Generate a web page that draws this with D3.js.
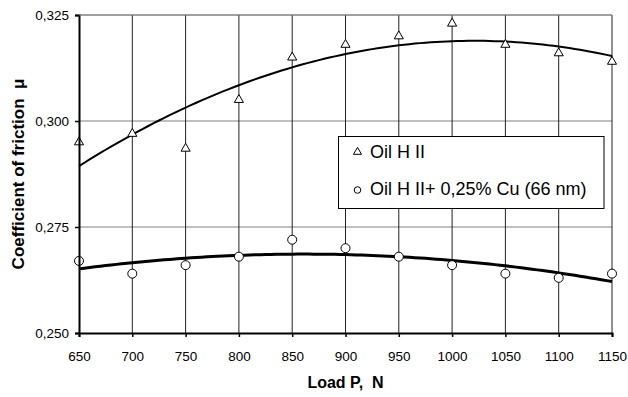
<!DOCTYPE html>
<html>
<head>
<meta charset="utf-8">
<script src="https://cdn.jsdelivr.net/npm/d3@7"></script>
<style>
  body { margin: 0; background: #fff; }
  svg { display: block; font-family: "Liberation Sans", Arial, sans-serif; }
</style>
</head>
<body>
<svg id="chart"></svg>
<script>
// Data
const loads = [650, 700, 750, 800, 850, 900, 950, 1000, 1050, 1100, 1150];
const oilH2 = [0.295, 0.297, 0.2935, 0.305, 0.315, 0.318, 0.320, 0.323, 0.318, 0.316, 0.314];
const oilH2Cu = [0.267, 0.264, 0.266, 0.268, 0.272, 0.270, 0.268, 0.266, 0.264, 0.263, 0.264];
const yTicks = [0.250, 0.275, 0.300, 0.325];
const seriesNames = ["Oil H II", "Oil H II+ 0,25% Cu (66 nm)"];

const width = 628, height = 397;
const plotLeft = 79, plotRight = 612, plotTop = 15, plotBottom = 333;

const svg = d3.select("#chart")
    .attr("width", width)
    .attr("height", height);

const x = d3.scaleLinear().domain([650, 1150]).range([plotLeft, plotRight]);
const y = d3.scaleLinear().domain([0.25, 0.325]).range([plotBottom, plotTop]);

const fmt = v => d3.format(".3f")(v).replace(".", ",");

// Horizontal grid (grey)
svg.append("g")
    .selectAll("line")
    .data(yTicks.slice(1))
    .enter()
    .append("line")
    .attr("x1", plotLeft).attr("x2", plotRight)
    .attr("y1", d => y(d)).attr("y2", d => y(d))
    .attr("stroke", "#808080")
    .attr("stroke-width", 1);

// Vertical grid (dark)
svg.append("g")
    .selectAll("line")
    .data(loads.slice(1))
    .enter()
    .append("line")
    .attr("x1", d => x(d)).attr("x2", d => x(d))
    .attr("y1", plotTop).attr("y2", plotBottom)
    .attr("stroke", "#222")
    .attr("stroke-width", 1);

// Quadratic least-squares trend, as the spreadsheet did
function quadFit(xs, ys) {
    const x0 = d3.mean(xs);
    let s = [0, 0, 0, 0, 0], t = [0, 0, 0];
    xs.forEach((xv, i) => {
        const u = xv - x0;
        for (let k = 0; k < 5; k++) s[k] += Math.pow(u, k);
        for (let k = 0; k < 3; k++) t[k] += ys[i] * Math.pow(u, k);
    });
    // solve 3x3 by Cramer's rule
    const m = [[s[0], s[1], s[2]], [s[1], s[2], s[3]], [s[2], s[3], s[4]]];
    const det = a => a[0][0] * (a[1][1] * a[2][2] - a[1][2] * a[2][1])
        - a[0][1] * (a[1][0] * a[2][2] - a[1][2] * a[2][0])
        + a[0][2] * (a[1][0] * a[2][1] - a[1][1] * a[2][0]);
    const D = det(m);
    const c = [0, 1, 2].map(j => det(m.map((row, r) => row.map((v, col) => col === j ? t[r] : v))) / D);
    return xv => c[0] + c[1] * (xv - x0) + c[2] * (xv - x0) * (xv - x0);
}

const line = d3.line().x(d => x(d[0])).y(d => y(d[1]));
const xs = d3.range(650, 1150.1, 5);

[[oilH2, 2], [oilH2Cu, 3]].forEach(([vals, w]) => {
    const f = quadFit(loads, vals);
    svg.append("path")
        .datum(xs.map(v => [v, f(v)]))
        .attr("d", line)
        .attr("fill", "none")
        .attr("stroke", "#000")
        .attr("stroke-width", w);
});

// Markers
const tri = d3.symbol().type(d3.symbolTriangle).size(36);
svg.append("g")
    .selectAll("path")
    .data(loads.map((l, i) => [l, oilH2[i]]))
    .enter()
    .append("path")
    .attr("d", tri)
    .attr("transform", d => `translate(${x(d[0])},${y(d[1])})`)
    .attr("fill", "#fff")
    .attr("stroke", "#000")
    .attr("stroke-width", 1);

svg.append("g")
    .selectAll("circle")
    .data(loads.map((l, i) => [l, oilH2Cu[i]]))
    .enter()
    .append("circle")
    .attr("cx", d => x(d[0]))
    .attr("cy", d => y(d[1]))
    .attr("r", 4.5)
    .attr("fill", "#fff")
    .attr("stroke", "#000")
    .attr("stroke-width", 1);

// Legend
const lg = svg.append("g");
lg.append("rect")
    .attr("x", 338.5).attr("y", 136.5)
    .attr("width", 265.5).attr("height", 72)
    .attr("fill", "#fff")
    .attr("stroke", "#000")
    .attr("stroke-width", 1);
lg.append("path")
    .attr("d", d3.symbol().type(d3.symbolTriangle).size(28))
    .attr("transform", "translate(357.5,152)")
    .attr("fill", "#fff").attr("stroke", "#000");
lg.append("circle")
    .attr("cx", 357.5).attr("cy", 190).attr("r", 3.3)
    .attr("fill", "#fff").attr("stroke", "#000");
lg.selectAll("text")
    .data(seriesNames)
    .enter()
    .append("text")
    .attr("x", 370)
    .attr("y", (d, i) => i === 0 ? 158 : 195)
    .attr("font-size", 18)
    .text(d => d);

// Axes
const xAxis = svg.append("g")
    .attr("transform", `translate(0,${plotBottom})`)
    .call(d3.axisBottom(x).tickValues(loads).tickSize(4).tickPadding(14).tickFormat(d3.format("d")));
const yAxis = svg.append("g")
    .attr("transform", `translate(${plotLeft},0)`)
    .call(d3.axisLeft(y).tickValues(yTicks).tickSize(4).tickPadding(6).tickFormat(fmt));

[xAxis, yAxis].forEach(g => {
    g.select(".domain").attr("stroke", "#000").attr("stroke-width", 2);
    g.selectAll(".tick line").attr("stroke", "#000").attr("stroke-width", 1.5);
    g.selectAll(".tick text")
        .attr("font-family", "'Liberation Sans', Arial, sans-serif")
        .attr("font-size", 13.5)
        .attr("fill", "#000");
});

// Top border
svg.append("line")
    .attr("x1", plotLeft).attr("x2", plotRight).attr("y1", plotTop).attr("y2", plotTop)
    .attr("stroke", "#808080");

// Axis titles
svg.append("text")
    .attr("x", (plotLeft + plotRight) / 2)
    .attr("y", 388)
    .attr("text-anchor", "middle")
    .attr("font-weight", "bold")
    .attr("font-size", 16)
    .style("white-space", "pre")
    .text("Load P,  N");

svg.append("text")
    .attr("transform", `translate(23.5,${(plotTop + plotBottom) / 2}) rotate(-90)`)
    .attr("text-anchor", "middle")
    .attr("font-weight", "bold")
    .attr("font-size", 17)
    .style("white-space", "pre")
    .text("Coefficient of friction  μ");
</script>
</body>
</html>
